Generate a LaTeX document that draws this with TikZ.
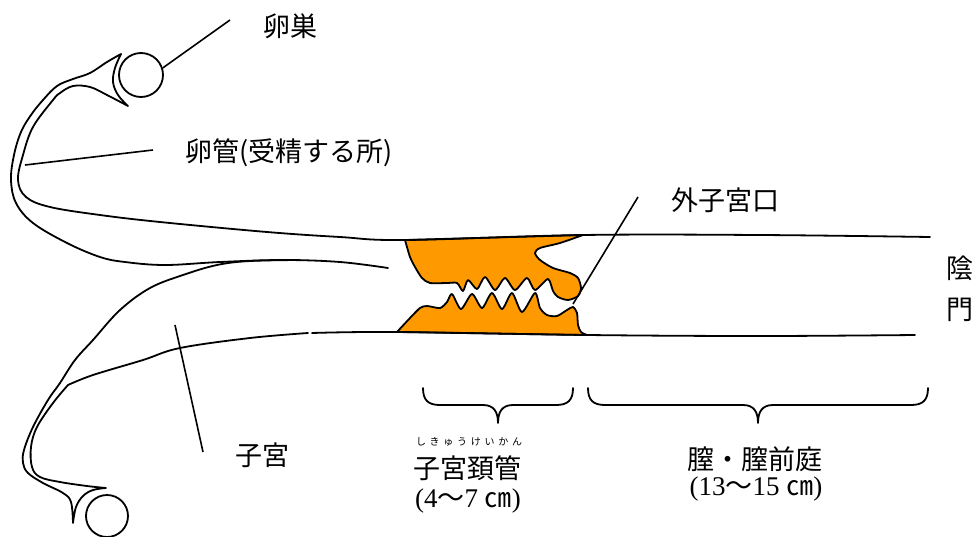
\documentclass[tikz,border=0pt]{standalone}
\usepackage{fontspec}
\newfontfamily\jp{Noto Sans CJK JP}
\newfontfamily\numfont{Liberation Serif}
\definecolor{cervix}{HTML}{FF9900}
\begin{document}
\begin{tikzpicture}[x=1pt,y=-1pt,
  organ/.style={line width=1.8pt,line join=round,line cap=round},
  lip/.style={organ,fill=cervix},
  ptr/.style={line width=1.6pt},
  gland/.style={draw,circle,line width=1.8pt,inner sep=0pt},
  lbl/.style={inner sep=0pt,font=\jp\fontsize{27}{30}\selectfont},
  num/.style={inner sep=0pt,font=\numfont\fontsize{27}{30}\selectfont},
  ruby/.style={inner sep=0pt,font=\jp\fontsize{10}{12}\selectfont}]
\useasboundingbox (0,0) rectangle (980,536);

% cervix (orange lips)
\filldraw[lip] (405,240) -- (583,235) -- plot[smooth,tension=0.45] coordinates {(583,235) (560,243) (540,248) (535,253) (540,260) (553,268) (570,273) (578,278) (581,288) (578,296) (568,300) (558,297) (553,291) (548,279) (535,290) (527,278) (515,290) (505,278) (495,290) (485,277) (477,289) (468,280) (463,291) (457,283) (447,283) (430,283) (422,278) (415,267) (410,257) (405,240)} -- cycle;
\filldraw[lip] (397,332) -- plot[smooth,tension=0.45] coordinates {(397,332) (410,318) (420,308) (427,306) (440,308) (447,302) (452,294) (461,309) (472,294) (482,308) (492,293) (502,309) (512,293) (522,312) (535,293) (540,308) (547,315) (557,316) (567,310) (573,307) (577,313) (578,325) (581,332) (587,335)} -- cycle;

% upper tube + vagina top wall
\draw[organ] plot[smooth,tension=0.6] coordinates {(388,268) (340,262) (283,260) (220,262) (165,265) (125,262) (100,257) (67,243) (33,223) (16,203) (11,180) (14,155) (21,132) (31,115) (43,100) (57,86) (73,79) (90,73) (107,62) (121,54)}
  plot[smooth,tension=0.6] coordinates {(121,54) (115,68) (113,82) (118,95) (128,106)}
  plot[smooth,tension=0.6] coordinates {(128,106) (107,95) (90,87) (73,86) (60,93) (53,100) (33,127) (23,155) (18,180) (26,197) (50,207) (100,215) (160,222) (267,232) (340,237) (405,240) (583,235) (760,235) (930,237)};

% uterus + lower tube
\draw[organ] plot[smooth,tension=0.6] coordinates {(300,260) (250,261) (217,265) (183,275) (150,288) (120,310) (93,340) (75,360) (60,383) (48,400) (33,427) (24,450) (23,463) (28,473) (43,483) (63,493) (71,502) (73,523)}
  plot[smooth,tension=0.6] coordinates {(73,523) (76,507) (83,496) (93,490) (106,488)}
  plot[smooth,tension=0.6] coordinates {(106,488) (87,486) (60,482) (40,477) (32,467) (31,447) (37,427) (53,403) (68,385)}
  plot[smooth,tension=0.6] coordinates {(68,385) (93,375) (143,360) (180,348) (250,338) (308,333)};

% vagina bottom wall
\draw[organ] plot[smooth,tension=0.6] coordinates {(312,333) (397,332) (587,335) (760,336) (915,335)};

% ovaries
\node[gland,minimum size=44pt] (ovary1) at (141,75) {};
\node[gland,minimum size=42pt] (ovary2) at (107,516) {};

% pointer lines
\coordinate (p1) at (230,20);
\draw[ptr] (ovary1.18) -- (p1);
\coordinate (t1) at (25,165); \coordinate (t2) at (153,150);
\draw[ptr] (t1) -- (t2);
\coordinate (u1) at (175,325); \coordinate (u2) at (203,452);
\draw[ptr] (u1) -- (u2);
\coordinate (o1) at (573,304); \coordinate (o2) at (638,197);
\draw[ptr] (o1) -- (o2);

% braces
\draw[organ] (423,388) .. controls (423,400) and (428,405) .. (440,405) -- (483,405) .. controls (494,405) and (498,412) .. (498,423) .. controls (498,412) and (502,405) .. (513,405) -- (556,405) .. controls (568,405) and (573,400) .. (573,388);
\draw[organ] (588,388) .. controls (588,400) and (593,405) .. (605,405) -- (743,405) .. controls (754,405) and (758,412) .. (758,423) .. controls (758,412) and (762,405) .. (773,405) -- (911,405) .. controls (923,405) and (928,400) .. (928,388);

% labels
\node[lbl] (ovaryLbl) at (290,26) {卵巣};
\node[lbl,anchor=west] (tubeLbl) at (185,153) {卵管(受精する所)};
\node[lbl] (osLbl) at (725,200) {外子宮口};
\node[lbl] (anusA) at (960,268) {陰};
\node[lbl] (anusB) at (960,310) {門};
\node[lbl] (uterusLbl) at (262,455) {子宮};
\node[ruby] (rubyLbl) at (469,442) {\makebox[106pt][s]{し\hfill き\hfill ゅ\hfill う\hfill け\hfill い\hfill か\hfill ん}};
\node[lbl] (cervixLbl) at (467,468) {子宮頚管};
\node[num] (cervixLen) at (468,501) {(4{\jp ～}7 {\jp ㎝})};
\node[lbl] (vagLbl) at (755,459) {膣・膣前庭};
\node[num] (vagLen) at (756,489) {(13{\jp ～}15 {\jp ㎝})};
\end{tikzpicture}
\end{document}
